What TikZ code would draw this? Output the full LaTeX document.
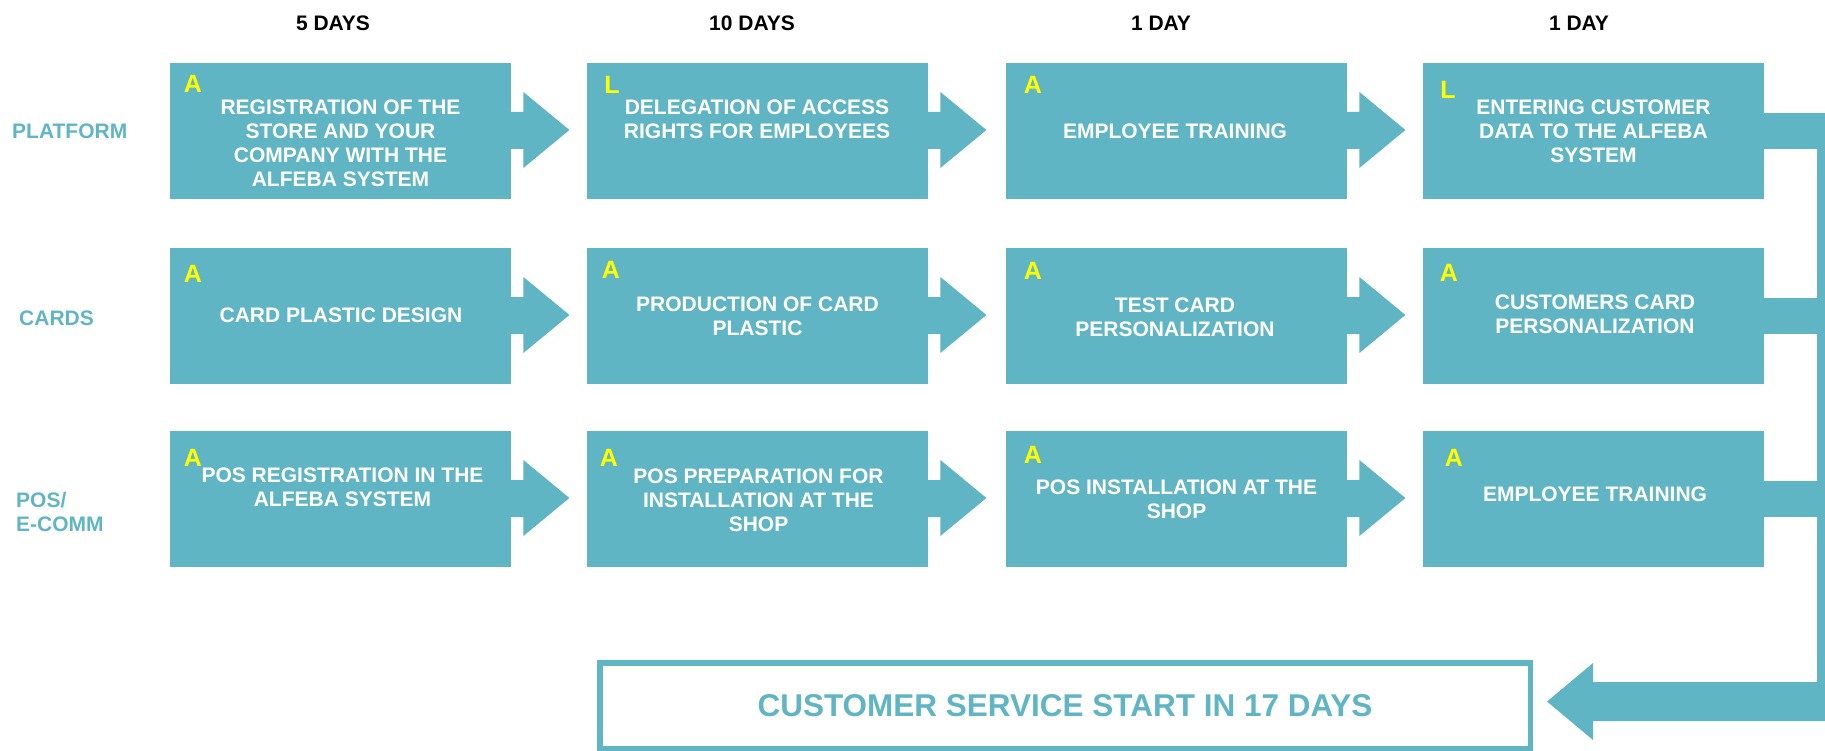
\documentclass[tikz,border=0pt]{standalone}
\usepackage{fontspec}
\setmainfont{Liberation Sans}
\usetikzlibrary{calc}
\definecolor{flowteal}{RGB}{96,181,197}
\definecolor{roleyellow}{RGB}{255,255,0}

% block arrow leaving the right side of a stage box
\newcommand\stagearrow[1]{%
  \fill[flowteal] ($(#1.north east)+(-1,49)$) -- ++(13,0) -- ++(0,-20) -- ++(46,38)
    -- ++(-46,38) -- ++(0,-19) -- ++(-13,0) -- cycle;}
% bar from the last stage of a lane to the collecting bar on the right
\newcommand\lanefeed[1]{%
  \fill[flowteal] ($(#1.north east)+(-1,50)$) rectangle ($(#1.north east)+(60,86)$);}

\begin{document}
\begin{tikzpicture}[x=1pt,y=-1pt,
  stage/.style={rectangle,fill=flowteal,draw=none,inner sep=0pt,
    minimum width=341pt,minimum height=136pt,anchor=north west},
  stagetext/.style={inner sep=0pt,align=center,text=white,
    font=\fontsize{21}{24}\selectfont\bfseries},
  role/.style={inner sep=0pt,text=roleyellow,font=\fontsize{25}{25}\selectfont\bfseries},
  lane/.style={inner sep=0pt,anchor=west,align=left,text=flowteal,
    font=\fontsize{21}{24}\selectfont\bfseries},
  span/.style={inner sep=0pt,text=black,font=\fontsize{21}{24}\selectfont\bfseries},
]
\useasboundingbox (0,0) rectangle (1825,751);

% durations
\node[span] (d1) at (333,23) {5 DAYS};
\node[span] (d2) at (752,23) {10 DAYS};
\node[span] (d3) at (1161,23) {1 DAY};
\node[span] (d4) at (1579,23) {1 DAY};

% lanes
\node[lane] (l1) at (12,131) {PLATFORM};
\node[lane] (l2) at (19,318.5) {CARDS};
\node[lane] (l3) at (16,511.5) {POS/\\E-COMM};

% stage boxes
\foreach \r/\y in {1/63,2/248,3/431}{
  \foreach \c/\x in {1/170,2/587,3/1006,4/1423}{
    \node[stage] (b\r\c) at (\x,\y) {};
  }
}

% arrows between stages
\foreach \r in {1,2,3}{
  \foreach \c in {1,2,3}{
    \stagearrow{b\r\c}
  }
  \lanefeed{b\r4}
}

% collecting bar and final arrow
\coordinate (top) at (1817,113);
\coordinate (turn) at (1825,721);
\fill[flowteal] (top) rectangle (turn);
\fill[flowteal] (1825,682) -- (1593,682) -- (1593,663) -- (1547,701.5)
  -- (1593,740) -- (1593,721) -- (turn) -- cycle;

% row 1: platform
\node[role] (r11) at (193,84) {A};
\node[stagetext] (t11) at (340.5,143.5) {REGISTRATION OF THE\\STORE AND YOUR\\COMPANY WITH THE\\ALFEBA SYSTEM};
\node[role] (r12) at (612,84.5) {L};
\node[stagetext] (t12) at (757,119) {DELEGATION OF ACCESS\\RIGHTS FOR EMPLOYEES};
\node[role] (r13) at (1033,85) {A};
\node[stagetext] (t13) at (1175,131) {EMPLOYEE TRAINING};
\node[role] (r14) at (1448,89.5) {L};
\node[stagetext] (t14) at (1593.5,131.5) {ENTERING CUSTOMER\\DATA TO THE ALFEBA\\SYSTEM};

% row 2: cards
\node[role] (r21) at (193,274) {A};
\node[stagetext] (t21) at (341,315) {CARD PLASTIC DESIGN};
\node[role] (r22) at (611,270) {A};
\node[stagetext] (t22) at (757.5,316) {PRODUCTION OF CARD\\PLASTIC};
\node[role] (r23) at (1033,271) {A};
\node[stagetext] (t23) at (1175,317) {TEST CARD\\PERSONALIZATION};
\node[role] (r24) at (1449,273) {A};
\node[stagetext] (t24) at (1595,314) {CUSTOMERS CARD\\PERSONALIZATION};

% row 3: pos / e-commerce
\node[role] (r31) at (193,457.5) {A};
\node[stagetext] (t31) at (342.5,487.5) {POS REGISTRATION IN THE\\ALFEBA SYSTEM};
\node[role] (r32) at (609,457.5) {A};
\node[stagetext] (t32) at (758.5,500) {POS PREPARATION FOR\\INSTALLATION AT THE\\SHOP};
\node[role] (r33) at (1033,454.5) {A};
\node[stagetext] (t33) at (1176.5,499) {POS INSTALLATION AT THE\\SHOP};
\node[role] (r34) at (1454,457.5) {A};
\node[stagetext] (t34) at (1595,494) {EMPLOYEE TRAINING};

% result
\node[draw=flowteal,line width=5.5pt,minimum width=930.5pt,minimum height=85.5pt,
  inner sep=0pt,text=flowteal,font=\fontsize{31.5}{32}\selectfont\bfseries]
  (goal) at (1065,705.5) {CUSTOMER SERVICE START IN 17 DAYS};
\end{tikzpicture}
\end{document}
